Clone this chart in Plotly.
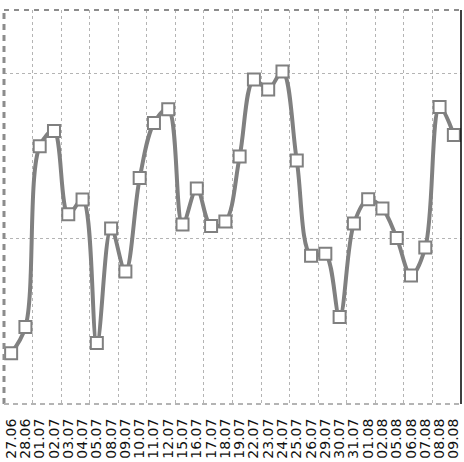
import plotly.graph_objects as go

# trading days shown on the category axis
dates = [
    "27.06", "28.06", "01.07", "02.07", "03.07", "04.07", "05.07", "08.07",
    "09.07", "10.07", "11.07", "12.07", "15.07", "16.07", "17.07", "18.07",
    "19.07", "22.07", "23.07", "24.07", "25.07", "26.07", "29.07", "30.07",
    "31.07", "01.08", "02.08", "05.08", "06.08", "07.08", "08.08", "09.08",
]

# daily values
values = [
    3.08, 4.67, 15.62, 16.54, 11.50, 12.39, 3.69, 10.64,
    8.02, 13.69, 17.02, 17.86, 10.88, 13.05, 10.78, 11.05,
    14.99, 19.66, 19.06, 20.14, 14.75, 8.98, 9.10, 5.27,
    10.93, 12.41, 11.85, 10.06, 7.78, 9.48, 18.00, 16.30,
]

idx = list(range(len(dates)))
# vertical grid lines sit on every second category boundary
grid_x = [i + 0.5 for i in range(1, len(dates) - 1, 2)]
x_range = [-0.5, len(dates) - 0.5]

fig = go.Figure()
fig.add_trace(
    go.Scatter(
        x=idx,
        y=values,
        mode="lines+markers",
        line=dict(color="#808080", width=4, shape="spline", smoothing=1),
        marker=dict(
            symbol="square",
            size=12,
            color="white",
            line=dict(color="#808080", width=2),
        ),
        hoverinfo="skip",
    )
)
# empty trace so the overlay grid axis gets drawn
fig.add_trace(
    go.Scatter(x=idx, y=values, xaxis="x2", mode="none", hoverinfo="skip")
)

grid = dict(showgrid=True, gridcolor="#b4b4b4", griddash="dot", gridwidth=1)
border = "#8c8c8c"
fig.update_layout(
    width=464,
    height=462,
    margin=dict(l=4, r=3, t=10, b=55),
    paper_bgcolor="white",
    plot_bgcolor="white",
    showlegend=False,
    font=dict(family="DejaVu Sans", size=14, color="#111111"),
    xaxis=dict(
        range=x_range,
        tickmode="array",
        tickvals=idx,
        ticktext=dates,
        tickangle=-90,
        showgrid=False,
        zeroline=False,
        ticks="outside",
        ticklen=8,
        tickcolor="rgba(0,0,0,0)",
    ),
    # overlay axis only used to draw the grid on every second boundary
    xaxis2=dict(
        overlaying="x",
        anchor="y",
        side="top",
        range=x_range,
        tickmode="array",
        tickvals=grid_x,
        showticklabels=False,
        ticks="",
        zeroline=False,
        **grid,
    ),
    yaxis=dict(
        range=[0, 23.87],
        dtick=10,
        showticklabels=False,
        zeroline=False,
        **grid,
    ),
    shapes=[
        dict(type="line", xref="paper", yref="paper", x0=0, x1=1, y0=1, y1=1,
             line=dict(color=border, width=2, dash="5px,5px")),
        dict(type="line", xref="paper", yref="paper", x0=0, x1=0, y0=0, y1=1,
             line=dict(color=border, width=3, dash="6px,5px")),
        dict(type="line", xref="paper", yref="paper", x0=0, x1=1, y0=0, y1=0,
             line=dict(color="#b4b4b4", width=2, dash="5px,4px")),
        dict(type="line", xref="paper", yref="paper", x0=1, x1=1, y0=0, y1=1,
             line=dict(color="black", width=1.5)),
    ],
)

fig.write_html(
    "out.html",
    config={"displayModeBar": False},
    post_script="document.body.style.margin = '0';",
)
